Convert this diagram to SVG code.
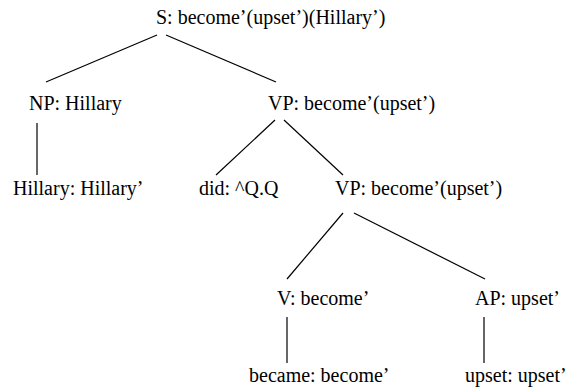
<svg xmlns="http://www.w3.org/2000/svg" width="579" height="387" viewBox="0 0 579 387">
  <style>
    .lbl { font-family: 'Liberation Serif', 'DejaVu Serif', serif; font-size: 20px; fill: #000; }
    .edge { stroke: #000; stroke-width: 1.2; fill: none; }
  </style>
  <rect width="579" height="387" fill="#fff"/>
  <g id="connectors">
    <line class="edge" x1="157" y1="35" x2="46" y2="82"/>
    <line class="edge" x1="166" y1="35" x2="276" y2="82"/>
    <line class="edge" x1="37" y1="123" x2="37" y2="175"/>
    <line class="edge" x1="275" y1="120" x2="216" y2="175"/>
    <line class="edge" x1="284" y1="120" x2="343" y2="175"/>
    <line class="edge" x1="343" y1="213" x2="287" y2="279"/>
    <line class="edge" x1="354" y1="213" x2="485" y2="279"/>
    <line class="edge" x1="287" y1="317" x2="287" y2="363"/>
    <line class="edge" x1="484" y1="317" x2="484" y2="363"/>
  </g>
  <g font-family="Liberation Serif, serif" font-size="20">
    <g id="s"><text class="lbl" x="156" y="24">S: become’(upset’)(Hillary’)</text></g>
    <g id="np"><text class="lbl" x="29" y="110">NP: Hillary</text></g>
    <g id="vp1"><text class="lbl" x="268" y="110">VP: become’(upset’)</text></g>
    <g id="hillary"><text class="lbl" x="13" y="195">Hillary: Hillary’</text></g>
    <g id="did"><text class="lbl" x="199" y="195">did: ^Q.Q</text></g>
    <g id="vp2"><text class="lbl" x="335" y="195">VP: become’(upset’)</text></g>
    <g id="v"><text class="lbl" x="277" y="305">V: become’</text></g>
    <g id="ap"><text class="lbl" x="475" y="305">AP: upset’</text></g>
    <g id="became"><text class="lbl" x="249" y="382">became: become’</text></g>
    <g id="upset"><text class="lbl" x="465" y="382">upset: upset’</text></g>
  </g>
</svg>
